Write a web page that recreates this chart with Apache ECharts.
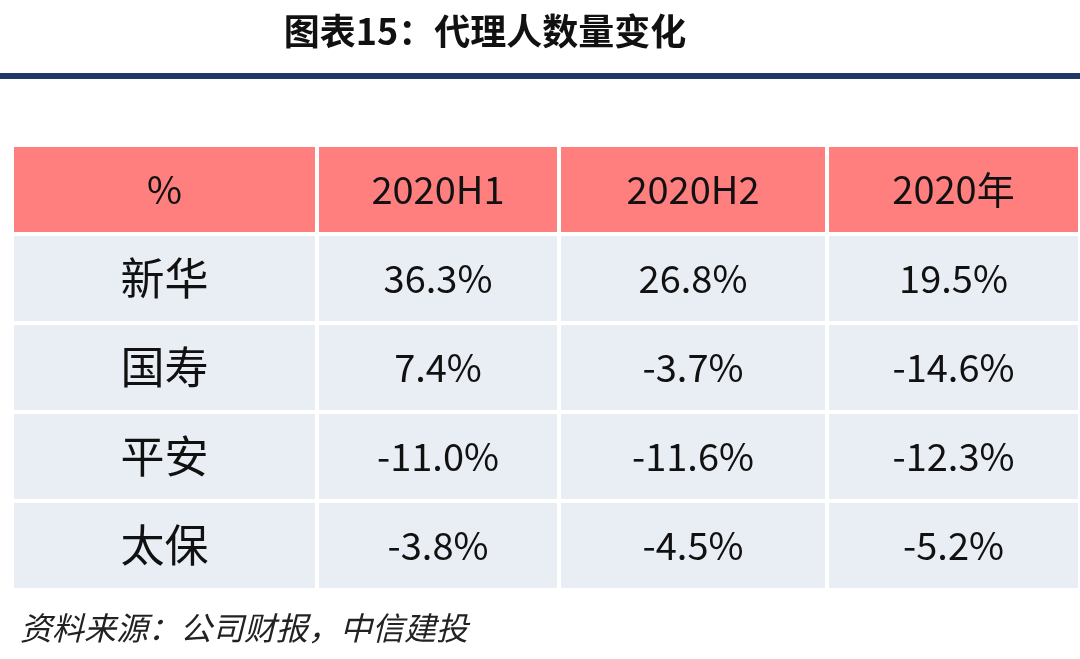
<!DOCTYPE html>
<html><head><meta charset="utf-8">
<script src="https://cdn.jsdelivr.net/npm/echarts@6/dist/echarts.min.js"></script>
<style>html,body{margin:0;padding:0;background:#fff}#c{width:1080px;height:659px}</style>
</head><body><div id="c"></div>
<script>
const headers = ['%', '2020H1', '2020H2', '2020年'];
const companies = ['新华', '国寿', '平安', '太保'];
const h1 = ['36.3%', '7.4%', '-11.0%', '-3.8%'];
const h2 = ['26.8%', '-3.7%', '-11.6%', '-4.5%'];
const year = ['19.5%', '-14.6%', '-12.3%', '-5.2%'];

const rows = ['header', ...companies];
const cells = [];
headers.forEach((h, c) => cells.push([c, 0, h]));
companies.forEach((n, r) => {
  cells.push([0, r + 1, n]);
  cells.push([1, r + 1, h1[r]]);
  cells.push([2, r + 1, h2[r]]);
  cells.push([3, r + 1, year[r]]);
});
const colEdges = [0, 305, 547, 815, 1068];

const chart = echarts.init(document.getElementById('c'));
chart.setOption({
  animation: false,
  title: {
    text: '图表15：代理人数量变化', left: 480, top: 8, textAlign: 'center',
    textStyle: { fontFamily: 'Noto Sans CJK SC', fontWeight: 'bold', fontSize: 36, color: '#111' }
  },
  graphic: [
    { type: 'rect', shape: { x: 0, y: 73, width: 1080, height: 6 }, style: { fill: '#1f3864' } },
    { type: 'text', left: 20, top: 612, style: { text: '资料来源：公司财报，中信建投', font: 'italic 32px "Noto Sans CJK SC"', fill: '#222' } }
  ],
  grid: { left: 12, right: 0, top: 145, bottom: 69 },
  xAxis: { type: 'value', min: 0, max: 1068, show: false },
  yAxis: { type: 'category', data: rows, inverse: true, show: false },
  series: [{
    type: 'custom',
    data: cells,
    renderItem(params, api) {
      const c = api.value(0), r = api.value(1);
      const x0 = api.coord([colEdges[c], r])[0];
      const x1 = api.coord([colEdges[c + 1], r])[0];
      const p = api.coord([0, r]);
      const h = api.size([0, 1])[1];
      const g = 4;
      return {
        type: 'group',
        children: [
          { type: 'rect', shape: { x: x0 + g / 2, y: p[1] - h / 2 + g / 2, width: x1 - x0 - g, height: h - g },
            style: { fill: r === 0 ? '#ff7f7f' : '#e9edf4' } },
          { type: 'text', x: (x0 + x1) / 2, y: p[1],
            style: { text: cells[params.dataIndex][2], align: 'center', verticalAlign: 'middle',
              font: (c === 0 && r > 0 ? '44px' : '38px') + ' "Noto Sans CJK SC", "Open Sans"', fill: '#111' } }
        ]
      };
    }
  }]
});
</script></body></html>
